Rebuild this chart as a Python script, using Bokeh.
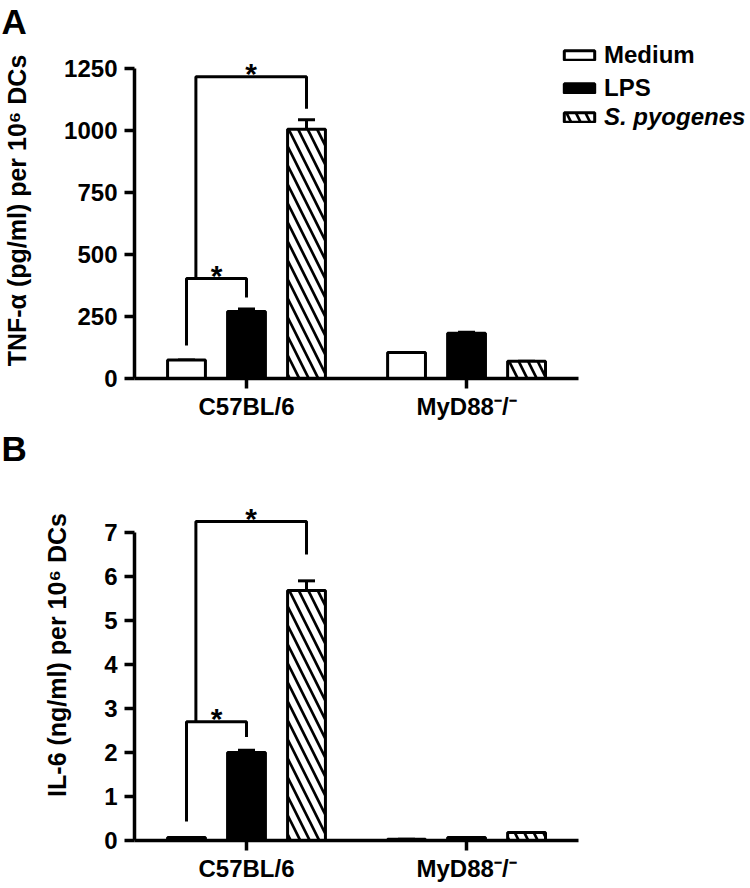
from bokeh.plotting import figure
from bokeh.models import Range1d, FixedTicker, Label, Legend, LegendItem, Whisker, ColumnDataSource, TeeHead, Title
from bokeh.layouts import column
from bokeh.embed import file_html
from bokeh.resources import INLINE

# ---- data ----
group_pos = [0, 1]
group_labels = ["C57BL/6", "MyD88⁻/⁻"]
treatments = ["Medium", "LPS", "S. pyogenes"]
offsets = [-0.2727, 0.0, 0.2727]

tnf_medium = [75, 105]
tnf_lps = [270, 182]
tnf_spyo = [1005, 70]
tnf_medium_err = [0, 0]
tnf_lps_err = [10, 4]
tnf_spyo_err = [38, 0]

il6_medium = [0.07, 0.03]
il6_lps = [2.0, 0.07]
il6_spyo = [5.68, 0.18]
il6_medium_err = [0, 0]
il6_lps_err = [0.05, 0]
il6_spyo_err = [0.22, 0]

tnf_ticks = [0, 250, 500, 750, 1000, 1250]
il6_ticks = [0, 1, 2, 3, 4, 5, 6, 7]

# brackets: (x_left, x_right, y_top, y_left_bottom, y_right_bottom)
tnf_brackets = [(-0.2727, 0.0, 403, 133, 327), (-0.23, 0.2727, 1217, 403, 1088)]
il6_brackets = [(-0.2727, 0.0, 2.7, 0.43, 2.35), (-0.23, 0.2727, 7.25, 2.7, 6.5)]

FONT = "Liberation Sans"
X_START, X_END = -0.509, 2.295


def panel(letter, ylabel, medium, lps, spyo, errs, ticks, ymax, brackets,
          top, frame_h, label_standoff, legend):
    p = figure(frame_width=617, frame_height=frame_h,
               x_range=Range1d(X_START, X_END), y_range=Range1d(0, ymax),
               output_backend="svg", toolbar_location=None,
               min_border_left=133, min_border_right=0,
               min_border_top=top, min_border_bottom=0)
    p.outline_line_color = None
    p.grid.visible = False
    p.background_fill_color = "white"

    t = Title(text=letter, align="left", offset=-133, standoff=0,
              vertical_align="top", text_font=FONT, text_font_style="bold",
              text_font_size="35px", text_color="black")
    p.add_layout(t, "above")

    series = [medium, lps, spyo]
    fills = ["white", "black", "white"]
    hatches = [None, None, "\\"]
    renderers = []
    for i in range(3):
        xs = [g + offsets[i] for g in group_pos]
        src = ColumnDataSource(dict(x=xs, top=series[i]))
        kw = dict(x="x", top="top", width=0.172, source=src,
                  fill_color=fills[i], line_color="black", line_width=3)
        if hatches[i]:
            kw.update(hatch_pattern=hatches[i], hatch_color="black",
                      hatch_weight=2.7, hatch_scale=19)
        r = p.vbar(**kw)
        renderers.append(r)
        up = [v + e for v, e in zip(series[i], errs[i])]
        wsrc = ColumnDataSource(dict(base=xs, lower=series[i], upper=up))
        w = Whisker(base="base", lower="lower", upper="upper", source=wsrc,
                    line_width=3, line_color="black", lower_head=None,
                    upper_head=TeeHead(size=17, line_width=3, line_color="black"))
        p.add_layout(w)

    xs_list, ys_list, sx, sy = [], [], [], []
    for (x1, x2, yt, yb1, yb2) in brackets:
        xs_list.append([x1, x1, x2, x2])
        ys_list.append([yb1, yt, yt, yb2])
        sx.append((x1 + x2) / 2)
        sy.append(yt)
    p.multi_line(xs_list, ys_list, line_color="black", line_width=3)
    for x, y in zip(sx, sy):
        p.add_layout(Label(x=x, y=y, text="*", text_align="center",
                           text_baseline="alphabetic", y_offset=3,
                           text_font=FONT, text_font_style="bold",
                           text_font_size="30px", text_color="black"))

    p.yaxis.ticker = FixedTicker(ticks=ticks)
    p.yaxis.bounds = (0, ticks[-1])
    p.xaxis.ticker = FixedTicker(ticks=group_pos)
    p.xaxis.bounds = (X_START, 1.509)
    p.xaxis.major_label_overrides = {g: l for g, l in zip(group_pos, group_labels)}
    for ax in (p.xaxis, p.yaxis):
        ax.axis_line_width = 3.5
        ax.major_tick_line_width = 3.5
        ax.major_tick_out = 10
        ax.major_tick_in = 0
        ax.minor_tick_line_color = None
        ax.major_label_text_font = FONT
        ax.major_label_text_font_style = "bold"
        ax.major_label_text_color = "black"
        ax.axis_line_color = "black"
        ax.major_tick_line_color = "black"
    p.yaxis.major_label_text_font_size = "24px"
    p.yaxis.major_label_standoff = 7
    p.yaxis.axis_label = ylabel
    p.yaxis.axis_label_text_font = FONT
    p.yaxis.axis_label_text_font_style = "bold"
    p.yaxis.axis_label_text_font_size = "25px"
    p.yaxis.axis_label_text_color = "black"
    p.yaxis.axis_label_standoff = label_standoff
    p.xaxis.major_label_text_font_size = "24px"
    p.xaxis.major_label_standoff = 4

    if legend:
        lkw = dict(padding=0, margin=0, border_line_color=None,
                   background_fill_alpha=0, glyph_width=38, glyph_height=12,
                   label_height=12, spacing=5, label_standoff=6,
                   label_text_font=FONT, label_text_font_size="24px",
                   label_text_color="black")
        l1 = Legend(items=[LegendItem(label="Medium", renderers=[renderers[0]]),
                           LegendItem(label="LPS", renderers=[renderers[1]])],
                    location=(426, 276), label_text_font_style="bold", **lkw)
        l2 = Legend(items=[LegendItem(label="S. pyogenes", renderers=[renderers[2]])],
                    location=(426, 247), label_text_font_style="bold italic", **lkw)
        p.add_layout(l1)
        p.add_layout(l2)
    return p


pa = panel("A", "TNF-α (pg/ml) per 10⁶ DCs", tnf_medium, tnf_lps, tnf_spyo,
           [tnf_medium_err, tnf_lps_err, tnf_spyo_err], tnf_ticks, 1354.8,
           tnf_brackets, 42, 336, 30, True)
pb = panel("B", "IL-6 (ng/ml) per 10⁶ DCs", il6_medium, il6_lps, il6_spyo,
           [il6_medium_err, il6_lps_err, il6_spyo_err], il6_ticks, 8.43,
           il6_brackets, 47, 371, 30, False)

layout = column(pa, pb, spacing=0)
open("out.html", "w").write(file_html(layout, INLINE))
